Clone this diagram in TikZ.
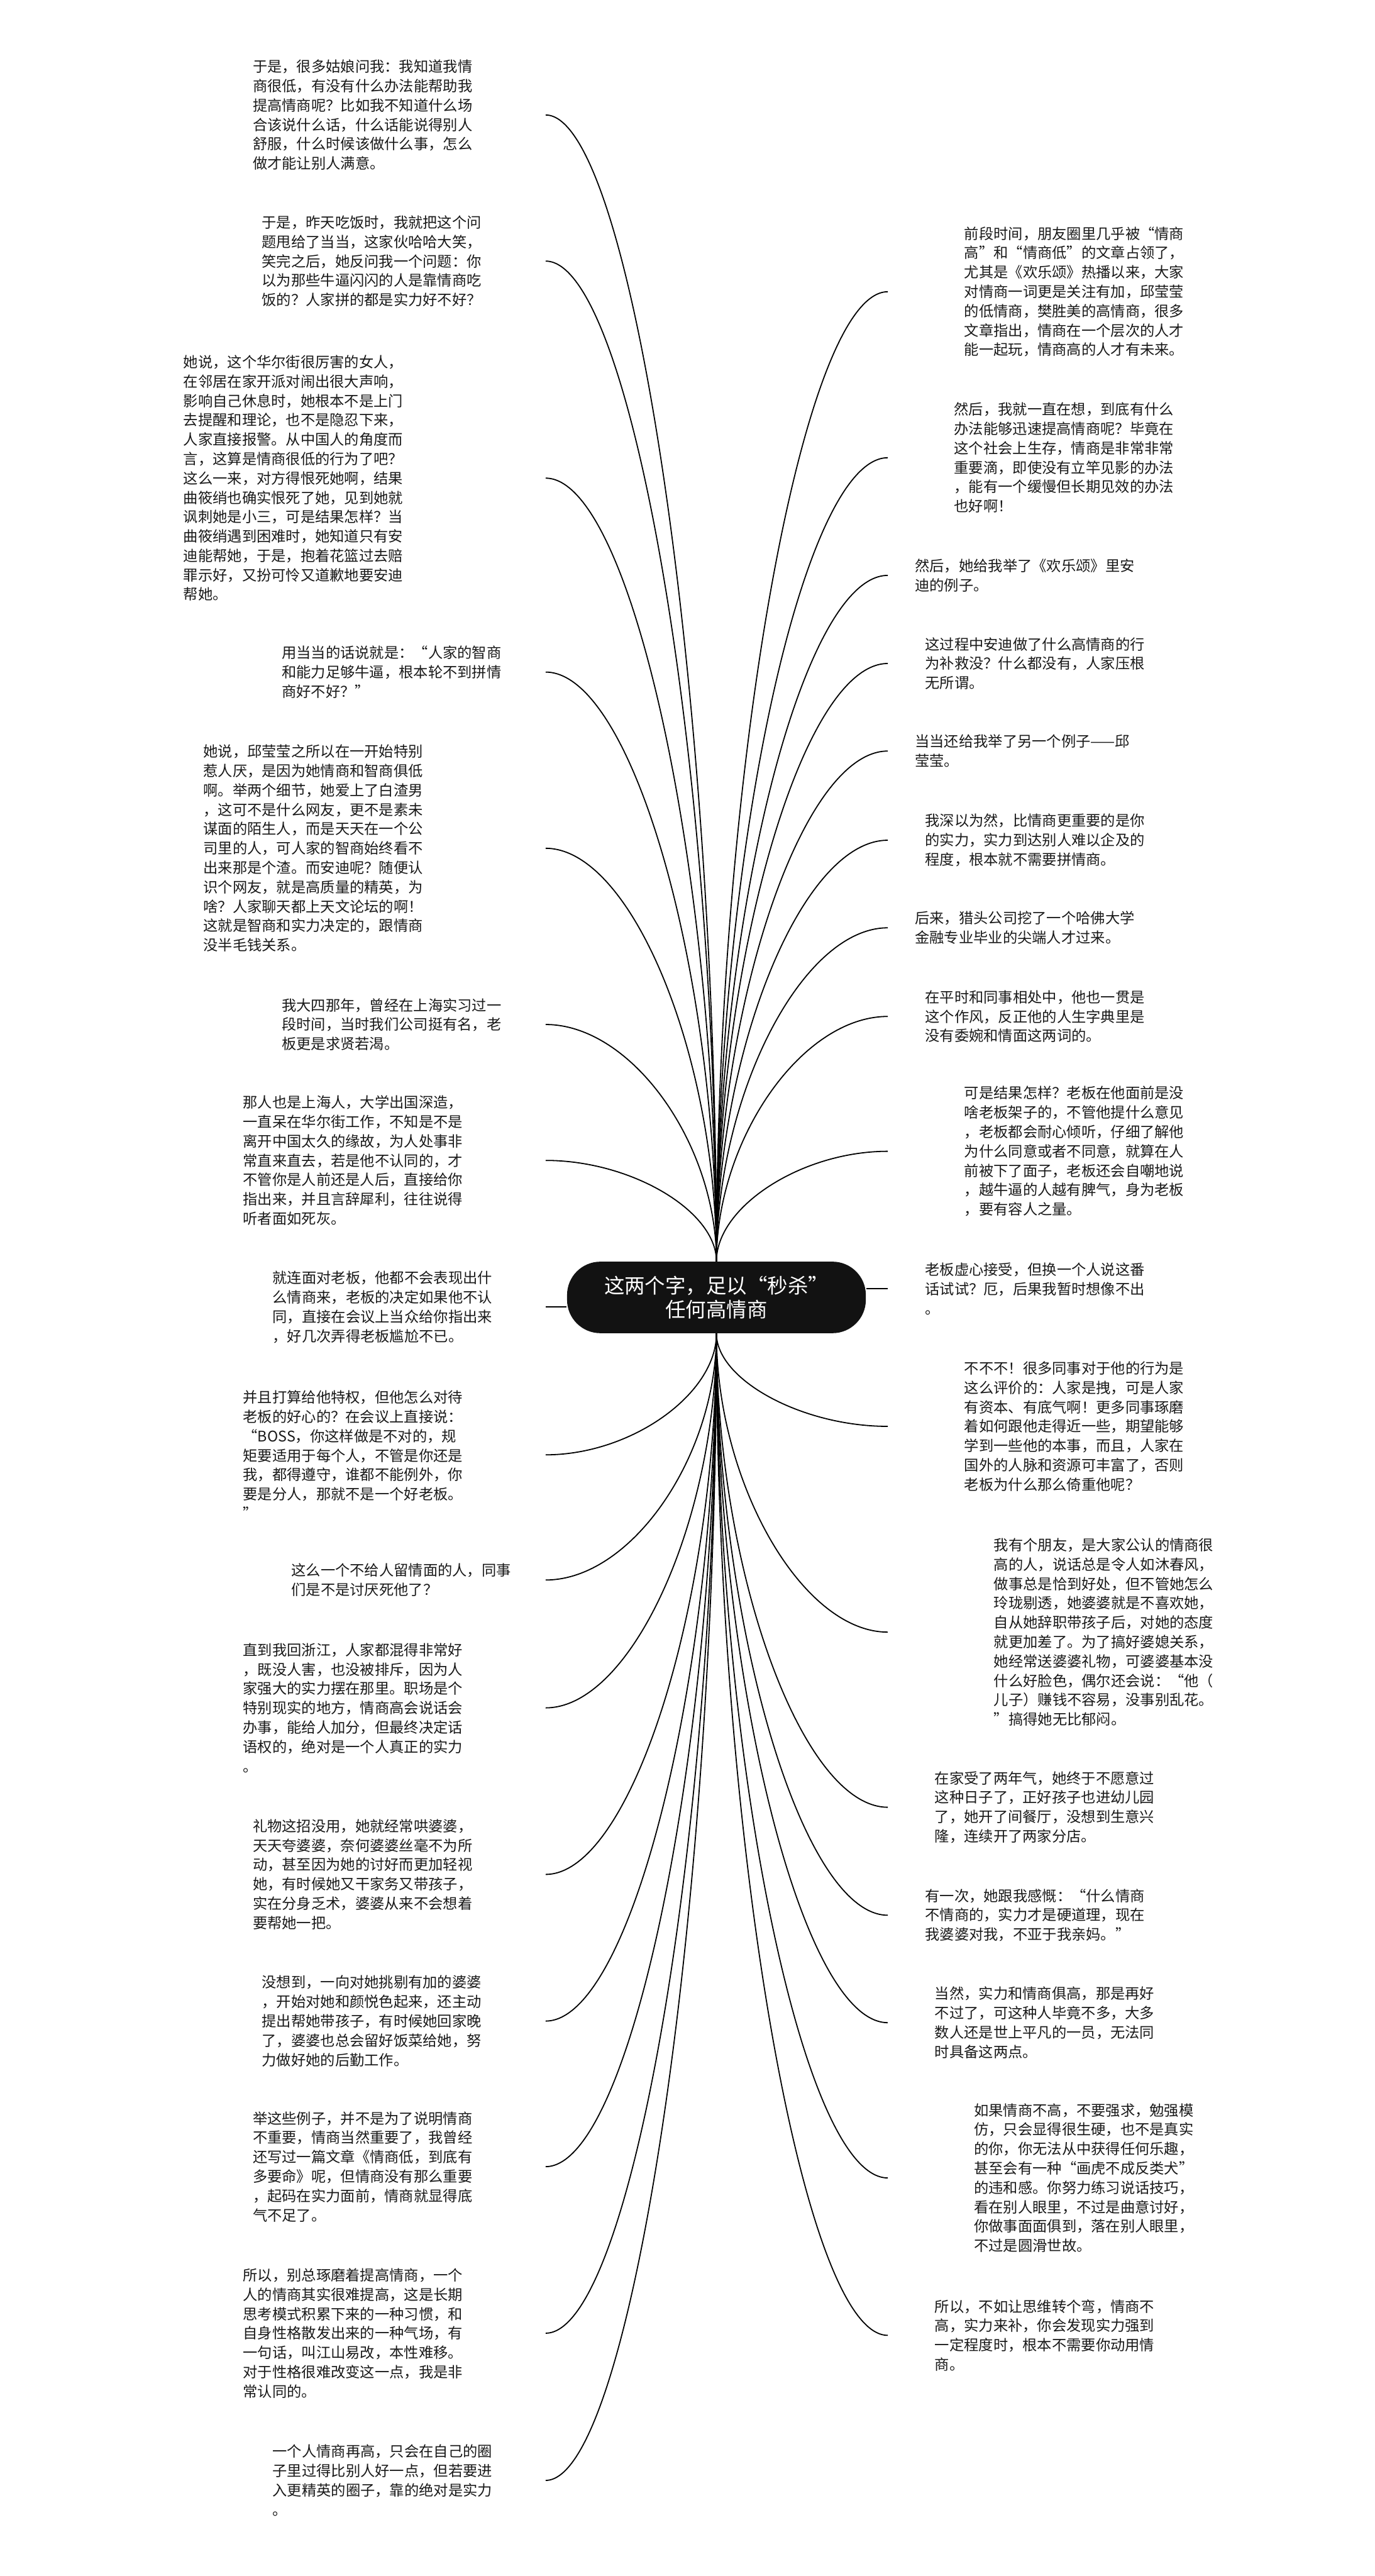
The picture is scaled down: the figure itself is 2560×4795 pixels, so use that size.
\documentclass[tikz,border=0pt]{standalone}
\usepackage{fontspec}
\setmainfont{Noto Sans CJK SC}
\usetikzlibrary{calc}

\begin{document}
\begin{tikzpicture}[
  x=0.01cm, y=-0.01cm,
  leaf/.style={anchor=west, align=left, inner sep=0pt, text=black!90,
    font=\fontsize{7.75pt}{10.25pt}\selectfont},
  main/.style={fill=black!93, text=white, rounded corners=0.62cm,
    minimum width=5.56cm, minimum height=1.33cm, align=center, inner sep=0pt,
    font=\fontsize{10.8pt}{12.5pt}\selectfont},
  link/.style={line width=0.6pt}
]
  \useasboundingbox (0,0) rectangle (2560,4795);
  \def\lx{1016}
  \def\rx{1653}
  \node[main] (root) at (1334,2415) {这两个字，足以“秒杀”\\任何高情商};

  \foreach \i/\y in {1/214, 2/486, 3/890, 4/1251, 5/1579, 6/1907, 7/2160, 8/2433,
    9/2708, 10/2941, 11/3179, 12/3489, 13/3762, 14/4033, 15/4343, 16/4617}
    \coordinate (lt\i) at (\lx,\y);
  \foreach \i/\y in {1/543, 2/852, 3/1071, 4/1235, 5/1398, 6/1564, 7/1727, 8/1892,
    9/2143, 10/2399, 11/2655, 12/3038, 13/3364, 14/3565, 15/3765, 16/4054, 17/4347}
    \coordinate (rt\i) at (\rx,\y);

  \node[leaf] (l1) at (470,0 |- lt1) {于是，很多姑娘问我：我知道我情\\商很低，有没有什么办法能帮助我\\提高情商呢？比如我不知道什么场\\合该说什么话，什么话能说得别人\\舒服，什么时候该做什么事，怎么\\做才能让别人满意。};
  \node[leaf] (l2) at (487,0 |- lt2) {于是，昨天吃饭时，我就把这个问\\题甩给了当当，这家伙哈哈大笑，\\笑完之后，她反问我一个问题：你\\以为那些牛逼闪闪的人是靠情商吃\\饭的？人家拼的都是实力好不好？};
  \node[leaf] (l3) at (341,0 |- lt3) {她说，这个华尔街很厉害的女人，\\在邻居在家开派对闹出很大声响，\\影响自己休息时，她根本不是上门\\去提醒和理论，也不是隐忍下来，\\人家直接报警。从中国人的角度而\\言，这算是情商很低的行为了吧？\\这么一来，对方得恨死她啊，结果\\曲筱绡也确实恨死了她，见到她就\\讽刺她是小三，可是结果怎样？当\\曲筱绡遇到困难时，她知道只有安\\迪能帮她，于是，抱着花篮过去赔\\罪示好，又扮可怜又道歉地要安迪\\帮她。};
  \node[leaf] (l4) at (524,0 |- lt4) {用当当的话说就是：“人家的智商\\和能力足够牛逼，根本轮不到拼情\\商好不好？”};
  \node[leaf] (l5) at (378,0 |- lt5) {她说，邱莹莹之所以在一开始特别\\惹人厌，是因为她情商和智商俱低\\啊。举两个细节，她爱上了白渣男\\，这可不是什么网友，更不是素未\\谋面的陌生人，而是天天在一个公\\司里的人，可人家的智商始终看不\\出来那是个渣。而安迪呢？随便认\\识个网友，就是高质量的精英，为\\啥？人家聊天都上天文论坛的啊！\\这就是智商和实力决定的，跟情商\\没半毛钱关系。};
  \node[leaf] (l6) at (524,0 |- lt6) {我大四那年，曾经在上海实习过一\\段时间，当时我们公司挺有名，老\\板更是求贤若渴。};
  \node[leaf] (l7) at (452,0 |- lt7) {那人也是上海人，大学出国深造，\\一直呆在华尔街工作，不知是不是\\离开中国太久的缘故，为人处事非\\常直来直去，若是他不认同的，才\\不管你是人前还是人后，直接给你\\指出来，并且言辞犀利，往往说得\\听者面如死灰。};
  \node[leaf] (l8) at (507,0 |- lt8) {就连面对老板，他都不会表现出什\\么情商来，老板的决定如果他不认\\同，直接在会议上当众给你指出来\\，好几次弄得老板尴尬不已。};
  \node[leaf] (l9) at (452,0 |- lt9) {并且打算给他特权，但他怎么对待\\老板的好心的？在会议上直接说：\\“BOSS，你这样做是不对的，规\\矩要适用于每个人，不管是你还是\\我，都得遵守，谁都不能例外，你\\要是分人，那就不是一个好老板。\\”};
  \node[leaf] (l10) at (542,0 |- lt10) {这么一个不给人留情面的人，同事\\们是不是讨厌死他了？};
  \node[leaf] (l11) at (452,0 |- lt11) {直到我回浙江，人家都混得非常好\\，既没人害，也没被排斥，因为人\\家强大的实力摆在那里。职场是个\\特别现实的地方，情商高会说话会\\办事，能给人加分，但最终决定话\\语权的，绝对是一个人真正的实力\\。};
  \node[leaf] (l12) at (470,0 |- lt12) {礼物这招没用，她就经常哄婆婆，\\天天夸婆婆，奈何婆婆丝毫不为所\\动，甚至因为她的讨好而更加轻视\\她，有时候她又干家务又带孩子，\\实在分身乏术，婆婆从来不会想着\\要帮她一把。};
  \node[leaf] (l13) at (487,0 |- lt13) {没想到，一向对她挑剔有加的婆婆\\，开始对她和颜悦色起来，还主动\\提出帮她带孩子，有时候她回家晚\\了，婆婆也总会留好饭菜给她，努\\力做好她的后勤工作。};
  \node[leaf] (l14) at (470,0 |- lt14) {举这些例子，并不是为了说明情商\\不重要，情商当然重要了，我曾经\\还写过一篇文章《情商低，到底有\\多要命》呢，但情商没有那么重要\\，起码在实力面前，情商就显得底\\气不足了。};
  \node[leaf] (l15) at (452,0 |- lt15) {所以，别总琢磨着提高情商，一个\\人的情商其实很难提高，这是长期\\思考模式积累下来的一种习惯，和\\自身性格散发出来的一种气场，有\\一句话，叫江山易改，本性难移。\\对于性格很难改变这一点，我是非\\常认同的。};
  \node[leaf] (l16) at (507,0 |- lt16) {一个人情商再高，只会在自己的圈\\子里过得比别人好一点，但若要进\\入更精英的圈子，靠的绝对是实力\\。};

  \node[leaf] (r1) at (1795,0 |- rt1) {前段时间，朋友圈里几乎被“情商\\高”和“情商低”的文章占领了，\\尤其是《欢乐颂》热播以来，大家\\对情商一词更是关注有加，邱莹莹\\的低情商，樊胜美的高情商，很多\\文章指出，情商在一个层次的人才\\能一起玩，情商高的人才有未来。};
  \node[leaf] (r2) at (1776,0 |- rt2) {然后，我就一直在想，到底有什么\\办法能够迅速提高情商呢？毕竟在\\这个社会上生存，情商是非常非常\\重要滴，即使没有立竿见影的办法\\，能有一个缓慢但长期见效的办法\\也好啊！};
  \node[leaf] (r3) at (1703,0 |- rt3) {然后，她给我举了《欢乐颂》里安\\迪的例子。};
  \node[leaf] (r4) at (1722,0 |- rt4) {这过程中安迪做了什么高情商的行\\为补救没？什么都没有，人家压根\\无所谓。};
  \node[leaf] (r5) at (1703,0 |- rt5) {当当还给我举了另一个例子——邱\\莹莹。};
  \node[leaf] (r6) at (1722,0 |- rt6) {我深以为然，比情商更重要的是你\\的实力，实力到达别人难以企及的\\程度，根本就不需要拼情商。};
  \node[leaf] (r7) at (1703,0 |- rt7) {后来，猎头公司挖了一个哈佛大学\\金融专业毕业的尖端人才过来。};
  \node[leaf] (r8) at (1722,0 |- rt8) {在平时和同事相处中，他也一贯是\\这个作风，反正他的人生字典里是\\没有委婉和情面这两词的。};
  \node[leaf] (r9) at (1795,0 |- rt9) {可是结果怎样？老板在他面前是没\\啥老板架子的，不管他提什么意见\\，老板都会耐心倾听，仔细了解他\\为什么同意或者不同意，就算在人\\前被下了面子，老板还会自嘲地说\\，越牛逼的人越有脾气，身为老板\\，要有容人之量。};
  \node[leaf] (r10) at (1722,0 |- rt10) {老板虚心接受，但换一个人说这番\\话试试？厄，后果我暂时想像不出\\。};
  \node[leaf] (r11) at (1795,0 |- rt11) {不不不！很多同事对于他的行为是\\这么评价的：人家是拽，可是人家\\有资本、有底气啊！更多同事琢磨\\着如何跟他走得近一些，期望能够\\学到一些他的本事，而且，人家在\\国外的人脉和资源可丰富了，否则\\老板为什么那么倚重他呢？};
  \node[leaf] (r12) at (1850,0 |- rt12) {我有个朋友，是大家公认的情商很\\高的人，说话总是令人如沐春风，\\做事总是恰到好处，但不管她怎么\\玲珑剔透，她婆婆就是不喜欢她，\\自从她辞职带孩子后，对她的态度\\就更加差了。为了搞好婆媳关系，\\她经常送婆婆礼物，可婆婆基本没\\什么好脸色，偶尔还会说：“他（\\儿子）赚钱不容易，没事别乱花。\\”搞得她无比郁闷。};
  \node[leaf] (r13) at (1740,0 |- rt13) {在家受了两年气，她终于不愿意过\\这种日子了，正好孩子也进幼儿园\\了，她开了间餐厅，没想到生意兴\\隆，连续开了两家分店。};
  \node[leaf] (r14) at (1722,0 |- rt14) {有一次，她跟我感慨：“什么情商\\不情商的，实力才是硬道理，现在\\我婆婆对我，不亚于我亲妈。”};
  \node[leaf] (r15) at (1740,0 |- rt15) {当然，实力和情商俱高，那是再好\\不过了，可这种人毕竟不多，大多\\数人还是世上平凡的一员，无法同\\时具备这两点。};
  \node[leaf] (r16) at (1813,0 |- rt16) {如果情商不高，不要强求，勉强模\\仿，只会显得很生硬，也不是真实\\的你，你无法从中获得任何乐趣，\\甚至会有一种“画虎不成反类犬”\\的违和感。你努力练习说话技巧，\\看在别人眼里，不过是曲意讨好，\\你做事面面俱到，落在别人眼里，\\不过是圆滑世故。};
  \node[leaf] (r17) at (1740,0 |- rt17) {所以，不如让思维转个弯，情商不\\高，实力来补，你会发现实力强到\\一定程度时，根本不需要你动用情\\商。};

  \foreach \i in {1,...,7}
    \draw[link] (root.north) .. controls ($(root.north)!0.5!(root.north |- lt\i)$)
      and ($(lt\i)!0.5!(lt\i -| root.north)$) .. (lt\i);
  \foreach \i in {9,...,16}
    \draw[link] (root.south) .. controls ($(root.south)!0.5!(root.south |- lt\i)$)
      and ($(lt\i)!0.5!(lt\i -| root.south)$) .. (lt\i);
  \foreach \i in {1,...,9}
    \draw[link] (root.north) .. controls ($(root.north)!0.5!(root.north |- rt\i)$)
      and ($(rt\i)!0.5!(rt\i -| root.north)$) .. (rt\i);
  \foreach \i in {11,...,17}
    \draw[link] (root.south) .. controls ($(root.south)!0.5!(root.south |- rt\i)$)
      and ($(rt\i)!0.5!(rt\i -| root.south)$) .. (rt\i);
  \draw[link] (lt8) -- (lt8 -| root.west);
  \draw[link] (rt10) -- (rt10 -| root.east);
\end{tikzpicture}
\end{document}
